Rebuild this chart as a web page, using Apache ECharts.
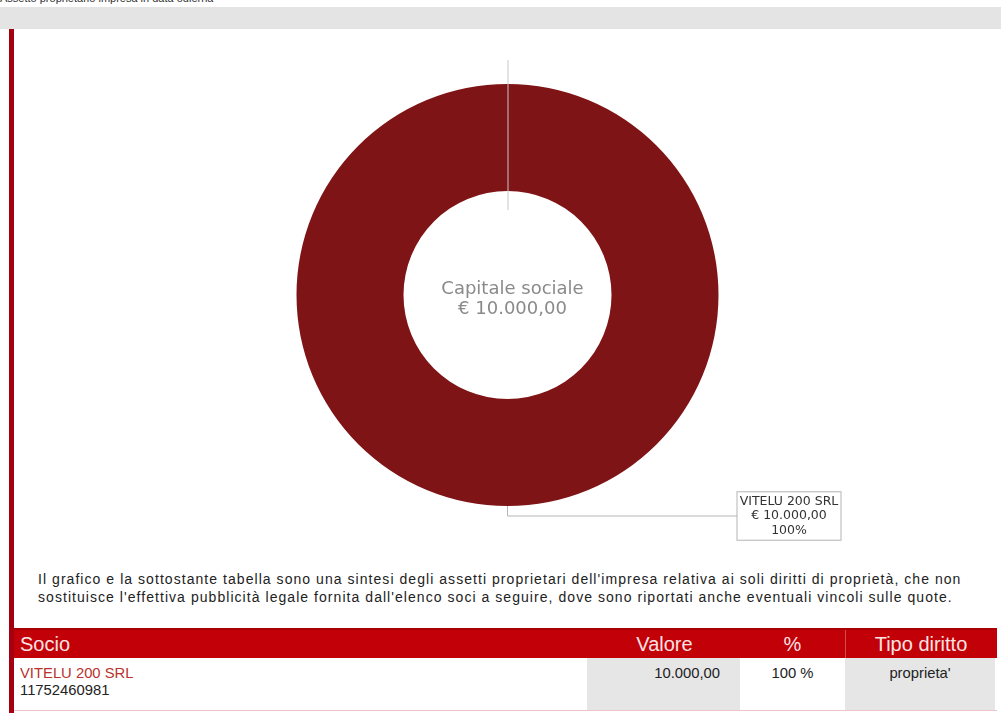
<!DOCTYPE html>
<html>
<head>
<meta charset="utf-8">
<script src="https://cdn.jsdelivr.net/npm/echarts@6/dist/echarts.min.js"></script>
<style>
  body { margin: 0; width: 1001px; height: 713px; overflow: hidden; background: #fff; position: relative; font-family: 'Liberation Sans', Arial, sans-serif; }
  .toptext { position: absolute; left: 0; top: -8px; font-size: 11px; color: #333; white-space: nowrap; }
  .topbar { position: absolute; left: 0; top: 7px; width: 1001px; height: 22px; background: #e4e4e4; }
  .box { position: absolute; left: 9px; top: 29px; width: 987px; height: 684px; border-left: 5px solid #a5000f; border-right: 1px solid #f3c9cc; }
  #chart { position: absolute; left: 14px; top: 30px; width: 987px; height: 530px; }
  .note { position: absolute; left: 38px; top: 570px; font-size: 14px; letter-spacing: 1.05px; line-height: 18px; color: #222; white-space: nowrap; }
  .thead { position: absolute; left: 14px; top: 628px; width: 983px; height: 30px; background: #c20008; border-top: 2px solid #a80006; box-sizing: border-box; color: #fbe3e3; font-size: 20px; }
  .thead div, .trow div { position: absolute; top: 0; height: 100%; display: flex; align-items: center; }
  .trow { position: absolute; left: 14px; top: 658px; width: 983px; height: 52px; border-bottom: 1px solid #f1c4c7; font-size: 14.8px; }
  .gray { background: #e6e6e6; }
</style>
</head>
<body>
<div class="toptext">Assetto proprietario impresa in data odierna</div>
<div class="topbar"></div>
<div class="box"></div>
<div id="chart"></div>
<div class="note">Il grafico e la sottostante tabella sono una sintesi degli assetti proprietari dell'impresa relativa ai soli diritti di proprietà, che non<br>sostituisce l'effettiva pubblicità legale fornita dall'elenco soci a seguire, dove sono riportati anche eventuali vincoli sulle quote.</div>
<div class="thead" id="thead"></div>
<div class="trow" id="trow"></div>
<script>
const soci = ['VITELU 200 SRL'];
const codici = ['11752460981'];
const valori = [10000];
const tipi = ["proprieta'"];
const colonne = ['Socio', 'Valore', '%', 'Tipo diritto'];
const capitale = 10000;

const fmt = v => v.toLocaleString('it-IT', { minimumFractionDigits: 2, maximumFractionDigits: 2 });

// table
const thead = document.getElementById('thead');
thead.innerHTML =
  `<div style="left:6px">${colonne[0]}</div>` +
  `<div style="left:573px;width:155px;justify-content:center">${colonne[1]}</div>` +
  `<div style="left:726px;width:105px;justify-content:center;border-right:1px solid #d84a4f">${colonne[2]}</div>` +
  `<div style="left:832px;width:150px;justify-content:center">${colonne[3]}</div>`;
const trow = document.getElementById('trow');
const tot = valori.reduce((a, b) => a + b, 0);
trow.innerHTML = soci.map((s, i) =>
  `<div style="left:6px;flex-direction:column;align-items:flex-start;justify-content:flex-start;padding-top:7px;box-sizing:border-box;line-height:17px">` +
    `<span style="color:#b8332e">${s}</span><span style="color:#222">${codici[i]}</span></div>` +
  `<div class="gray" style="left:573px;width:153px;justify-content:flex-end;align-items:flex-start;padding:7px 20px 0 0;box-sizing:border-box;color:#222">${fmt(valori[i])}</div>` +
  `<div style="left:726px;width:105px;justify-content:center;align-items:flex-start;padding-top:7px;box-sizing:border-box;color:#222">${Math.round(valori[i] / tot * 100)} %</div>` +
  `<div class="gray" style="left:831px;width:150px;justify-content:center;align-items:flex-start;padding-top:7px;box-sizing:border-box;color:#222">${tipi[i]}</div>`
).join('');

// chart
const chart = echarts.init(document.getElementById('chart'));
chart.setOption({
  animation: false,
  title: {
    text: 'Capitale sociale\n€ ' + fmt(capitale),
    left: '50%',
    top: 244,
    textAlign: 'center',
    textStyle: { color: '#8a8a8a', fontFamily: 'DejaVu Sans', fontSize: 18, fontWeight: 'normal', lineHeight: 20 }
  },
  graphic: [
    { type: 'line', shape: { x1: 494, y1: 30, x2: 494, y2: 180 }, style: { stroke: '#c8c8c8', lineWidth: 1 }, z: 10 }
  ],
  series: [{
    type: 'pie',
    center: ['50%', '50%'],
    radius: [104, 211],
    startAngle: 90,
    clockwise: true,
    silent: true,
    itemStyle: { color: '#7e1416' },
    label: {
      show: true,
      position: 'outside',
      distanceToLabelLine: 0,
      formatter: p => `{t|${p.name}}\n{t|€ ${fmt(p.value)}}\n{t|${Math.round(p.percent)}%}`,
      backgroundColor: '#fff',
      borderColor: '#b5b5b5',
      borderWidth: 1,
      padding: [2, 1, 2, 1],
      rich: {
        t: { width: 101, align: 'center', fontFamily: 'DejaVu Sans', fontSize: 12.5, lineHeight: 14.5, color: '#333' }
      }
    },
    labelLine: {
      show: true,
      length: 10,
      length2: 230,
      smooth: false,
      lineStyle: { color: '#b5b5b5', width: 1 }
    },
    data: soci.map((s, i) => ({ name: s, value: valori[i] }))
  }]
});
</script>
</body>
</html>
